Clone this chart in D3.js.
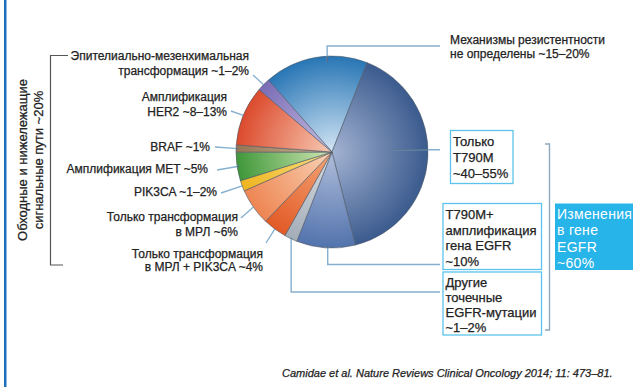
<!DOCTYPE html>
<html>
<head>
<meta charset="utf-8">
<script src="https://cdn.jsdelivr.net/npm/d3@7"></script>
<style>
  body { margin: 0; background: #fff; }
  svg { display: block; font-family: "Liberation Sans", Arial, Helvetica, sans-serif; }
  .dark { stroke: #222; stroke-width: 0.25px; }
</style>
</head>
<body>
<svg id="chart" width="633" height="387"></svg>
<script>
// Slices, clockwise from the "undefined mechanisms" wedge
const sliceNames = [
  "Механизмы резистентности не определены",
  "Только T790M",
  "T790M + амплификация гена EGFR",
  "Другие точечные EGFR-мутации",
  "Трансформация в МРЛ + PIK3CA",
  "Трансформация в МРЛ",
  "PIK3CA",
  "Амплификация MET",
  "BRAF",
  "Амплификация HER2",
  "Эпителиально-мезенхимальная трансформация"
];
const sliceValues = [17.5, 40.1, 9.9, 2.2, 4.0, 6.2, 1.8, 4.8, 1.2, 10.1, 2.2];
const sliceOuterColors = ["#2876b5", "#3b5b8e", "#5273ad", "#a3adb8", "#e25a26", "#ee8552", "#efb41f", "#3f9739", "#957553", "#dc4a2d", "#7a6cb5"];
const sliceInnerColors = ["#d3e5f4", "#a3b3d2", "#b0bedb", "#d8dde2", "#f4a678", "#f9d3b6", "#f8df86", "#d3e8b6", "#cdb898", "#f7cbb4", "#c6c0e2"];

// Labels on the left (bypass / downstream pathways)
const leftLabelLines = [
  ["Эпителиально-мезенхимальная", "трансформация ~1–2%"],
  ["Амплификация", "HER2 ~8–13%"],
  ["BRAF ~1%"],
  ["Амплификация MET ~5%"],
  ["PIK3CA ~1–2%"],
  ["Только трансформация", "в МРЛ ~6%"],
  ["Только трансформация", "в МРЛ + PIK3CA ~4%"]
];
const leftLabelSlices = [10, 9, 8, 7, 6, 5, 4];
const groupTitleLines = ["Обходные и нижележащие", "сигнальные пути ~20%"];

// Labels on the right (EGFR alterations)
const undefinedLabelLines = ["Механизмы резистентности", "не определены ~15–20%"];
const boxLabelLines = [
  ["Только", "T790M", "~40–55%"],
  ["T790M+", "амплификация", "гена EGFR", "~10%"],
  ["Другие", "точечные", "EGFR-мутации", "~1–2%"]
];
const boxLabelSlices = [1, 2, 3];
const egfrTotalLines = ["Изменения", "в гене", "EGFR", "~60%"];
const citation = "Camidae et al. Nature Reviews Clinical Oncology 2014; 11: 473–81.";

const svg = d3.select("#chart");
const cx = 332, cy = 152, R = 96;
const rad = Math.PI / 180;
const startAngle = -41.5 * rad;

const pie = d3.pie().sort(null).value(d => d)
  .startAngle(startAngle).endAngle(startAngle + 2 * Math.PI);
const arcs = pie(sliceValues);
const arc = d3.arc().innerRadius(0).outerRadius(R);

// point on the pie at angle a (radians, clockwise from 12 o'clock) and radius r
const polar = (a, r) => [cx + Math.sin(a) * r, cy - Math.cos(a) * r];
const along = (d, t, rf) => polar(d.startAngle + (d.endAngle - d.startAngle) * t, R * rf);

const defs = svg.append("defs");
arcs.forEach((d, i) => {
  const g = defs.append("radialGradient")
    .attr("id", "grad" + i)
    .attr("gradientUnits", "userSpaceOnUse")
    .attr("cx", 0).attr("cy", 0).attr("r", R);
  g.append("stop").attr("offset", "0%").attr("stop-color", sliceInnerColors[i]);
  g.append("stop").attr("offset", "45%").attr("stop-color", d3.interpolateRgb(sliceInnerColors[i], sliceOuterColors[i])(0.45));
  g.append("stop").attr("offset", "100%").attr("stop-color", sliceOuterColors[i]);
});
defs.append("clipPath").attr("id", "pieClip")
  .append("circle").attr("cx", cx).attr("cy", cy).attr("r", R);

// left page rule
svg.append("rect").attr("x", 4).attr("y", 0).attr("width", 2.5).attr("height", 387).attr("fill", "#1f6fbd");

// pie
const pieG = svg.append("g").attr("transform", `translate(${cx},${cy})`);
pieG.selectAll("path.slice").data(arcs).join("path")
  .attr("class", "slice")
  .attr("d", arc)
  .attr("fill", (d, i) => `url(#grad${i})`)
  .attr("stroke", "#4e5866")
  .attr("stroke-opacity", 0.75)
  .attr("stroke-width", 0.8)
  .attr("stroke-linejoin", "round");

// leader lines: light outside the pie, darker where they cross a slice
const line = d3.line();
const leaderG = svg.append("g").attr("fill", "none");
function leader(points) {
  leaderG.append("path").attr("d", line(points))
    .attr("stroke", "#86b0cf").attr("stroke-width", 1.4);
  leaderG.append("path").attr("d", line(points))
    .attr("clip-path", "url(#pieClip)")
    .attr("stroke", "#34465e").attr("stroke-opacity", 0.75).attr("stroke-width", 1.2);
}

// left labels
const leftLayout = [
  { x: 249, y: 56,  dy: 14.5, from: [253, 75] },
  { x: 227, y: 97,  dy: 14.5, from: [231, 111] },
  { x: 210, y: 147, dy: 14,   from: [215, 147] },
  { x: 208, y: 168.5, dy: 14, from: [217, 170] },
  { x: 217, y: 192, dy: 14,   from: [221, 193] },
  { x: 238, y: 217, dy: 14.3, from: [241, 218] },
  { x: 263, y: 253.5, dy: 13.5, from: [266, 243] }
];
const leftRf = [1.0, 1.0, 0.98, 0.98, 1.0, 1.0, 1.0];
leftLabelLines.forEach((lines, k) => {
  const L = leftLayout[k];
  const d = arcs[leftLabelSlices[k]];
  leader([L.from, along(d, 0.5, leftRf[k])]);
  const t = svg.append("text").attr("class", "dark").attr("text-anchor", "end")
    .attr("font-size", 12).attr("fill", "#222");
  lines.forEach((s, j) => t.append("tspan").attr("x", L.x).attr("y", L.y + j * L.dy + 4.2).text(s));
});

// bracket for the bypass pathways
svg.append("path")
  .attr("d", line([[68, 55.5], [50.5, 55.5], [50.5, 265], [63, 265]]))
  .attr("fill", "none").attr("stroke", "#555").attr("stroke-width", 1.2);
const gt = svg.append("text").attr("class", "dark").attr("text-anchor", "middle").attr("font-size", 13).attr("fill", "#222")
  .attr("transform", "translate(0,160) rotate(-90)");
groupTitleLines.forEach((s, j) => gt.append("tspan").attr("x", 0).attr("y", 27 + j * 15.5).text(s));

// undefined-mechanisms label
{
  const p = along(arcs[0], 0.61, 0.94);
  leader([p, [p[0], 46], [440, 46]]);
  const t = svg.append("text").attr("class", "dark").attr("font-size", 12).attr("fill", "#222");
  undefinedLabelLines.forEach((s, j) => t.append("tspan").attr("x", 450).attr("y", 44.3 + j * 13.5).text(s));
}

// EGFR boxes
const boxLayout = [
  { x: 450.5, y: 130.5, w: 62.5, h: 53, dy: 15.8 },
  { x: 443, y: 203.5, w: 98.5, h: 66, dy: 15.7 },
  { x: 443, y: 272, w: 98.5, h: 63, dy: 15 }
];
const boxAnchors = [
  p => [p, [440, p[1]]],
  p => [p, [p[0], 264.5], [440, 264.5]],
  p => [p, [p[0], 292], [440, 292]]
];
const boxAnchorPos = [[0.46, 0.64], [0.47, 0.98], [0.5, 0.99]];
boxLabelLines.forEach((lines, k) => {
  const B = boxLayout[k];
  const d = arcs[boxLabelSlices[k]];
  leader(boxAnchors[k](along(d, boxAnchorPos[k][0], boxAnchorPos[k][1])));
  svg.append("rect").attr("x", B.x).attr("y", B.y).attr("width", B.w).attr("height", B.h)
    .attr("fill", "none").attr("stroke", "#5cc3ec").attr("stroke-width", 1.3);
  const t = svg.append("text").attr("class", "dark").attr("font-size", 13).attr("fill", "#222");
  lines.forEach((s, j) => t.append("tspan").attr("x", B.x + 2.5).attr("y", B.y + 10.8 + j * B.dy + 4.6).text(s));
});

// EGFR bracket and total
svg.append("path")
  .attr("d", line([[545, 144], [549.5, 144], [549.5, 330], [545, 330]]))
  .attr("fill", "none").attr("stroke", "#8ea8be").attr("stroke-width", 1.4);
svg.append("rect").attr("x", 555).attr("y", 203.5).attr("width", 80).attr("height", 66.5).attr("fill", "#27b4e8");
{
  const t = svg.append("text").attr("font-size", 14).attr("fill", "#fff").attr("letter-spacing", 0.3);
  egfrTotalLines.forEach((s, j) => t.append("tspan").attr("x", 557).attr("y", 213.5 + j * 16.6 + 5).text(s));
}

// source
svg.append("text").attr("class", "dark").attr("x", 282).attr("y", 377).attr("font-size", 11)
  .attr("font-style", "italic").attr("fill", "#222").text(citation);
</script>
</body>
</html>
